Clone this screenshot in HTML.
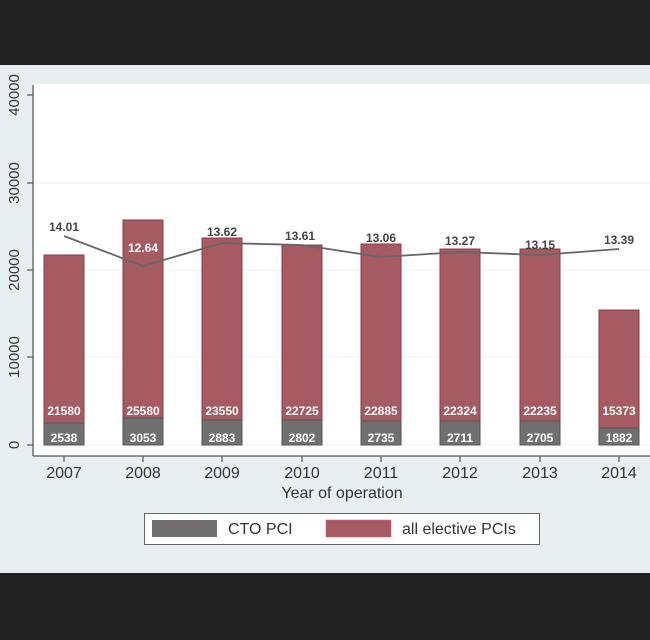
<!DOCTYPE html>
<html><head><meta charset="utf-8"><style>
body{margin:0;background:#222;}
svg{display:block;font-family:"Liberation Sans",Arial,sans-serif;}
</style></head><body>
<svg width="650" height="640" viewBox="0 0 650 640">
<rect x="0" y="0" width="650" height="640" fill="#222"/>
<rect x="0" y="65" width="650" height="508" fill="#e8eff1"/>
<rect x="34" y="84" width="616" height="372" fill="#fff"/>
<g stroke="#edf2f4" stroke-width="1">
<line x1="34" x2="650" y1="183" y2="183"/><line x1="34" x2="650" y1="270" y2="270"/><line x1="34" x2="650" y1="357" y2="357"/><line x1="34" x2="650" y1="445" y2="445"/>
</g>
<g stroke="#555" stroke-width="1.2">
<line x1="33" y1="85" x2="33" y2="456"/>
<line x1="33" y1="456" x2="650" y2="456"/>
<line x1="27" x2="33" y1="95" y2="95"/><line x1="27" x2="33" y1="183" y2="183"/><line x1="27" x2="33" y1="270" y2="270"/><line x1="27" x2="33" y1="357" y2="357"/><line x1="27" x2="33" y1="445" y2="445"/>
<line x1="64" x2="64" y1="456" y2="462"/><line x1="143" x2="143" y1="456" y2="462"/><line x1="222" x2="222" y1="456" y2="462"/><line x1="302" x2="302" y1="456" y2="462"/><line x1="381" x2="381" y1="456" y2="462"/><line x1="460" x2="460" y1="456" y2="462"/><line x1="540" x2="540" y1="456" y2="462"/><line x1="619" x2="619" y1="456" y2="462"/>
</g>
<g font-size="15" fill="#333" text-anchor="middle">
<text transform="translate(19,95) rotate(-90)">40000</text>
<text transform="translate(19,183) rotate(-90)">30000</text>
<text transform="translate(19,270) rotate(-90)">20000</text>
<text transform="translate(19,357) rotate(-90)">10000</text>
<text transform="translate(19,445) rotate(-90)">0</text>
</g>
<g font-size="16" fill="#333" text-anchor="middle">
<text x="64" y="478">2007</text><text x="143" y="478">2008</text><text x="222" y="478">2009</text><text x="302" y="478">2010</text><text x="381" y="478">2011</text><text x="460" y="478">2012</text><text x="540" y="478">2013</text><text x="619" y="478">2014</text>
<text x="342" y="498">Year of operation</text>
</g>
<g stroke="#8f3a44" stroke-width="1" fill="#a65a62">
<rect x="44" y="255" width="40" height="190"/>
<rect x="123" y="220" width="40" height="225"/>
<rect x="202" y="238" width="40" height="207"/>
<rect x="282" y="245" width="40" height="200"/>
<rect x="361" y="244" width="40" height="201"/>
<rect x="440" y="249" width="40" height="196"/>
<rect x="520" y="249" width="40" height="196"/>
<rect x="599" y="310" width="40" height="135"/>
</g>
<g stroke="#555" stroke-width="1" fill="#707070">
<rect x="44" y="423" width="40" height="22"/>
<rect x="123" y="418" width="40" height="27"/>
<rect x="202" y="420" width="40" height="25"/>
<rect x="282" y="420" width="40" height="25"/>
<rect x="361" y="421" width="40" height="24"/>
<rect x="440" y="421" width="40" height="24"/>
<rect x="520" y="421" width="40" height="24"/>
<rect x="599" y="428" width="40" height="17"/>
</g>
<g font-size="12" font-weight="bold" fill="#fff" text-anchor="middle">
<text x="64" y="415">21580</text><text x="143" y="415">25580</text><text x="222" y="415">23550</text><text x="302" y="415">22725</text><text x="381" y="415">22885</text><text x="460" y="415">22324</text><text x="540" y="415">22235</text><text x="619" y="415">15373</text>
<text x="64" y="442">2538</text><text x="143" y="442">3053</text><text x="222" y="442">2883</text><text x="302" y="442">2802</text><text x="381" y="442">2735</text><text x="460" y="442">2711</text><text x="540" y="442">2705</text><text x="619" y="442">1882</text>
</g>
<polyline fill="none" stroke="#666" stroke-width="1.8" points="64,236 143,266 222,243 302,245 381,257 460,252 540,255 619,249"/>
<g font-size="12" font-weight="bold" fill="#444" text-anchor="middle">
<text x="64" y="231">14.01</text>
<text x="143" y="252" fill="#fff">12.64</text>
<text x="222" y="236">13.62</text>
<text x="300" y="240">13.61</text>
<text x="381" y="242">13.06</text>
<text x="460" y="245">13.27</text>
<text x="540" y="249">13.15</text>
<text x="619" y="244">13.39</text>
</g>
<rect x="144.5" y="513.5" width="395" height="31" fill="#fff" stroke="#666"/>
<rect x="152" y="520" width="65" height="17" fill="#707070"/>
<rect x="326" y="520" width="65" height="17" fill="#a65a62" stroke="#c07078" stroke-width="0.6"/>
<g font-size="16" fill="#333">
<text x="228" y="534">CTO PCI</text>
<text x="402" y="534">all elective PCIs</text>
</g>
</svg>
</body></html>
